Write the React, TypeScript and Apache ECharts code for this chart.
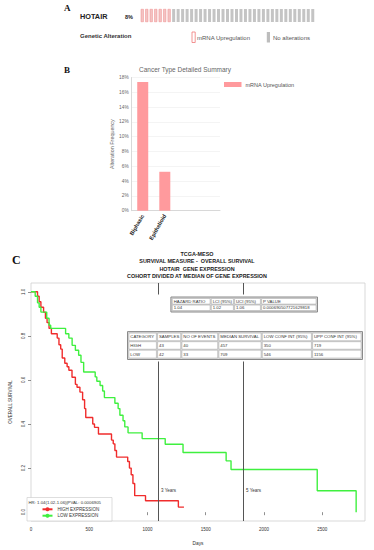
import React, { useEffect, useRef } from "react";
import * as echarts from "echarts";

// ---------- Panel A: oncoprint ----------
const geneName = "HOTAIR";
const alteredPct = "8%";
const sampleStatus: string[] = [
  "mRNA Upregulation", "mRNA Upregulation", "mRNA Upregulation", "mRNA Upregulation",
  "mRNA Upregulation", "mRNA Upregulation", "mRNA Upregulation",
  "No alterations", "No alterations", "No alterations", "No alterations",
  "No alterations", "No alterations", "No alterations", "No alterations",
  "No alterations", "No alterations", "No alterations", "No alterations",
  "No alterations", "No alterations", "No alterations", "No alterations",
  "No alterations", "No alterations", "No alterations", "No alterations",
  "No alterations", "No alterations", "No alterations", "No alterations",
  "No alterations", "No alterations", "No alterations", "No alterations",
  "No alterations", "No alterations", "No alterations", "No alterations",
];
const sampleIds: string[] = sampleStatus.map((_, i) => "S" + (i + 1));

// ---------- Panel B: cancer type summary ----------
const cancerTypes = ["Biphasic", "Epithelioid"];
const alterationFreq = [17.39, 5.26];
const freqTicks = [0, 2, 4, 6, 8, 10, 12, 14, 16, 18];

// ---------- Panel C: Kaplan-Meier ----------
const highDays = [0, 56, 70, 85, 108, 124, 138, 155, 175, 225, 240, 255, 268, 290, 310, 325, 352, 381, 395, 420, 443, 460, 470, 530, 545, 579, 691, 706, 720, 734, 830, 845, 860, 875, 890, 983, 1265, 1313];
const highSurv = [1.0, 0.98, 0.955, 0.93, 0.907, 0.88, 0.86, 0.834, 0.81, 0.79, 0.76, 0.74, 0.70, 0.676, 0.66, 0.644, 0.612, 0.58, 0.567, 0.545, 0.51, 0.47, 0.43, 0.40, 0.385, 0.355, 0.327, 0.31, 0.28, 0.25, 0.23, 0.20, 0.17, 0.13, 0.075, 0.052, 0.023, 0.023];
const lowDays = [0, 36, 56, 70, 85, 135, 155, 169, 297, 325, 353, 381, 409, 429, 452, 551, 565, 593, 615, 630, 720, 748, 763, 790, 805, 833, 954, 1152, 1305, 1675, 1717, 2457, 2791];
const lowSurv = [1.0, 0.98, 0.95, 0.93, 0.908, 0.88, 0.848, 0.834, 0.81, 0.79, 0.757, 0.735, 0.712, 0.68, 0.636, 0.614, 0.594, 0.575, 0.55, 0.52, 0.494, 0.47, 0.44, 0.415, 0.387, 0.36, 0.334, 0.308, 0.271, 0.233, 0.194, 0.097, 0.0];
const dayTicks = [0, 500, 1000, 1500, 2000, 2500];
const survTicks = [0, 0.2, 0.4, 0.6, 0.8, 1.0];
const yearMarks = [
  { day: 1095, label: "3 Years" },
  { day: 1825, label: "5 Years" },
];
const kmTitleLines = [
  "TCGA-MESO",
  "SURVIVAL MEASURE -  OVERALL SURVIVAL",
  "HOTAIR  GENE EXPRESSION",
  "COHORT DIVIDED AT MEDIAN OF GENE EXPRESSION",
];
const hrText = "HR: 1.04(1.02-1.06)|PVAL: 0.0006905";
const hrHeader = ["HAZARD RATIO", "LCI (95%)", "UCI (95%)", "P VALUE"];
const hrValues = ["1.04", "1.02", "1.06", "0.000690507721629818"];
const groupHeader = ["CATEGORY", "SAMPLES", "NO OF EVENTS", "MEDIAN SURVIVAL", "LOW CONF INT (95%)", "UPP CONF INT (95%)"];
const highRow = ["HIGH", "43", "40", "457", "350", "719"];
const lowRow = ["LOW", "42", "33", "709", "546", "1156"];

const FONT = "Liberation Sans, Arial, sans-serif";
const RED = "#f02c2c";
const GREEN = "#3ff03f";

function txt(text: string, x: number, y: number, size: number, opts: any = {}) {
  return {
    type: "text",
    x,
    y,
    z: opts.z ?? 20,
    style: {
      text,
      fontSize: size,
      fontFamily: opts.family ?? FONT,
      fontWeight: opts.weight ?? "normal",
      fill: opts.fill ?? "#333",
      align: opts.align ?? "left",
      textAlign: opts.align ?? "left",
      verticalAlign: "middle",
      textVerticalAlign: "middle",
    },
  };
}

function table(cols: number[], rows: number[], cells: string[][]) {
  const els: any[] = [];
  els.push({
    type: "rect",
    z: 11,
    shape: { x: cols[0] - 0.8, y: rows[0] - 1, width: cols[cols.length - 1] - cols[0] + 1.6, height: rows[rows.length - 1] - rows[0] + 2 },
    style: { fill: "#dcdcdc", stroke: "#8a8a8a", lineWidth: 1 },
  });
  for (let r = 0; r < rows.length - 1; r++) {
    for (let c = 0; c < cols.length - 1; c++) {
      els.push({
        type: "rect",
        z: 12,
        shape: { x: cols[c] + 0.6, y: rows[r] + 0.5, width: cols[c + 1] - cols[c] - 1.2, height: rows[r + 1] - rows[r] - 1 },
        style: { fill: "#fff", stroke: "#a0a0a0", lineWidth: 0.5 },
      });
      els.push(txt(cells[r][c], cols[c] + 2, (rows[r] + rows[r + 1]) / 2, 4.3, { fill: "#333", z: 13 }));
    }
  }
  return els;
}

export default function App() {
  const ref = useRef<HTMLDivElement>(null);
  useEffect(() => {
    if (!ref.current) return;
    const chart = echarts.init(ref.current, undefined, { renderer: "svg" });

    const graphics: any[] = [
      txt("A", 64, 8, 9, { family: "Liberation Serif, serif", weight: "bold", fill: "#111" }),
      txt("B", 64, 70, 9, { family: "Liberation Serif, serif", weight: "bold", fill: "#111" }),
      txt("C", 12, 260, 12, { family: "Liberation Serif, serif", weight: "bold", fill: "#111" }),
      txt(geneName, 80, 16.5, 7.3, { weight: "bold", fill: "#222" }),
      txt(alteredPct, 125, 16.5, 5.5, { weight: "bold", fill: "#222" }),
      txt("Genetic Alteration", 80, 35.5, 6, { weight: "bold", fill: "#333" }),
      {
        type: "rect", z: 20,
        shape: { x: 192, y: 32, width: 3.2, height: 10.5 },
        style: { fill: "#fff", stroke: "#f07878", lineWidth: 0.8 },
      },
      txt("mRNA Upregulation", 197, 37.5, 6, { fill: "#555" }),
      {
        type: "rect", z: 20,
        shape: { x: 266.8, y: 32, width: 3.2, height: 10.5 },
        style: { fill: "#bdbdbd" },
      },
      txt("No alterations", 273, 37.5, 6, { fill: "#555" }),
      {
        type: "rect", z: 3,
        shape: { x: 27, y: 497.5, width: 85, height: 23.5 },
        style: { fill: "#fff", stroke: "#c8c8c8", lineWidth: 0.6 },
      },
      txt(hrText, 28.5, 502, 4.3, { fill: "#333", z: 5 }),
      {
        type: "rect", z: 10,
        shape: { x: 126.5, y: 294.5, width: 237, height: 67 },
        style: { fill: "#fff" },
      },
      ...table([171.7, 210.7, 234, 261, 316.7], [298, 304.6, 311], [hrHeader, hrValues]),
      ...table([128.3, 157, 181.3, 218.3, 261.7, 312, 361.7], [332.6, 341.2, 349.7, 358.5], [groupHeader, highRow, lowRow]),
    ];

    const option: any = {
      animation: false,
      backgroundColor: "#fff",
      textStyle: { fontFamily: FONT },
      title: [
        {
          text: "Cancer Type Detailed Summary",
          left: 185,
          top: 66,
          textAlign: "center",
          textStyle: { fontSize: 6.5, fontWeight: "normal", color: "#666", fontFamily: FONT },
          padding: 0,
        },
        {
          text: kmTitleLines.join("\n"),
          left: 197,
          top: 250.3,
          textAlign: "center",
          textStyle: { fontSize: 5.4, lineHeight: 7.3, fontWeight: "bold", color: "#222", fontFamily: FONT },
          padding: 0,
        },
      ],
      legend: [
        {
          data: ["mRNA Upregulation"],
          left: 224,
          top: 81.5,
          padding: 0,
          icon: "rect",
          itemWidth: 17.5,
          itemHeight: 5,
          itemGap: 2,
          textStyle: { fontSize: 5.5, color: "#555", fontFamily: FONT, padding: [0, 0, 0, -1] },
        },
        {
          data: ["HIGH EXPRESSION", "LOW EXPRESSION"],
          orient: "vertical",
          left: 41.5,
          top: 506.8,
          padding: 0,
          itemWidth: 10,
          itemHeight: 5,
          itemGap: 1.4,
          textStyle: { fontSize: 4.5, color: "#333", fontFamily: FONT },
        },
      ],
      grid: [
        { left: 140, top: 9, width: 175, height: 13 },
        { left: 131.7, top: 77.5, width: 88.3, height: 133.2 },
        { left: 26.7, top: 283, width: 338.3, height: 238, show: true, borderColor: "#cfcfcf", borderWidth: 0.8 },
      ],
      xAxis: [
        { type: "category", gridIndex: 0, data: sampleIds, show: false },
        {
          type: "category",
          gridIndex: 1,
          data: cancerTypes,
          max: 3,
          axisLine: { lineStyle: { color: "#d8d8d8" } },
          axisTick: { show: false },
          axisLabel: {
            rotate: 60,
            margin: 4,
            interval: 0,
            fontSize: 5.6,
            fontWeight: "bold",
            color: "#222",
            fontFamily: FONT,
            formatter: (v: any) => (v == null || v === "undefined" ? "" : String(v)),
          },
        },
        {
          type: "value",
          gridIndex: 2,
          min: 0,
          max: 2867,
          name: "Days",
          nameLocation: "middle",
          nameGap: 20,
          nameTextStyle: { fontSize: 4.8, color: "#333", fontFamily: FONT },
          splitLine: { show: false },
          axisLine: { show: false },
          axisTick: { length: 3, lineStyle: { color: "#444", width: 0.6 }, customValues: dayTicks },
          axisLabel: {
            fontSize: 4.5,
            color: "#333",
            margin: 6,
            customValues: dayTicks,
            fontFamily: FONT,
            formatter: (v: number) => String(v),
          },
        },
      ],
      yAxis: [
        { type: "value", gridIndex: 0, min: 0, max: 1, show: false },
        {
          type: "value",
          gridIndex: 1,
          min: 0,
          max: 18,
          interval: 2,
          name: "Alteration Frequency",
          nameLocation: "middle",
          nameGap: 17,
          nameTextStyle: { fontSize: 5.4, color: "#666", fontFamily: FONT },
          axisLine: { show: true, lineStyle: { color: "#d8d8d8" } },
          axisTick: { show: false },
          splitLine: { lineStyle: { color: "#ececec", width: 0.6 } },
          axisLabel: {
            fontSize: 4.8,
            color: "#666",
            margin: 3,
            fontFamily: FONT,
            customValues: freqTicks,
            formatter: (v: number) => v + "%",
          },
        },
        {
          type: "value",
          gridIndex: 2,
          min: -0.04,
          max: 1.04,
          name: "OVERALL SURVIVAL",
          nameLocation: "middle",
          nameGap: 18,
          nameTextStyle: { fontSize: 4.5, color: "#333", fontFamily: FONT },
          splitLine: { show: false },
          axisLine: { show: false },
          axisTick: { length: 3, lineStyle: { color: "#444", width: 0.6 }, customValues: survTicks },
          axisLabel: {
            fontSize: 4.5,
            color: "#333",
            rotate: 90,
            margin: 5,
            fontFamily: FONT,
            customValues: survTicks,
            formatter: (v: number) => v.toFixed(1),
          },
        },
      ],
      series: [
        {
          type: "bar",
          xAxisIndex: 0,
          yAxisIndex: 0,
          barWidth: 3,
          data: sampleStatus.map((s) => ({
            value: 1,
            itemStyle:
              s === "mRNA Upregulation"
                ? { color: "#f3c3c3", borderColor: "#f08a8a", borderWidth: 0.5 }
                : { color: "#c4c4c4" },
          })),
        },
        {
          type: "bar",
          name: "mRNA Upregulation",
          xAxisIndex: 1,
          yAxisIndex: 1,
          barWidth: 11,
          itemStyle: { color: "#ff9a9d" },
          data: alterationFreq,
        },
        {
          type: "line",
          name: "HIGH EXPRESSION",
          xAxisIndex: 2,
          yAxisIndex: 2,
          step: "end",
          symbol: "none",
          lineStyle: { color: RED, width: 1.4 },
          itemStyle: { color: RED },
          data: highDays.map((d, i) => [d, highSurv[i]]),
          z: 3,
        },
        {
          type: "line",
          name: "LOW EXPRESSION",
          xAxisIndex: 2,
          yAxisIndex: 2,
          step: "end",
          symbol: "none",
          lineStyle: { color: GREEN, width: 1.4 },
          itemStyle: { color: GREEN },
          data: lowDays.map((d, i) => [d, lowSurv[i]]),
          z: 3,
          markLine: {
            silent: true,
            symbol: "none",
            label: { show: false },
            lineStyle: { color: "#555", width: 1, type: "solid" },
            data: yearMarks.map((m) => ({ xAxis: m.day })),
          },
          markPoint: {
            silent: true,
            symbol: "circle",
            symbolSize: 1,
            itemStyle: { color: "rgba(0,0,0,0)" },
            label: {
              show: true,
              position: "right",
              distance: 2,
              fontSize: 4.5,
              color: "#333",
              fontFamily: FONT,
              formatter: (p: any) => p.name,
            },
            data: yearMarks.map((m) => ({ name: m.label, coord: [m.day, 0.1] })),
          },
        },
      ],
      graphic: graphics,
    };

    chart.setOption(option);
    return () => chart.dispose();
  }, []);

  return (
    <div
      ref={ref}
      style={{ position: "fixed", left: 0, top: 0, width: 374, height: 550, background: "#fff" }}
    />
  );
}
